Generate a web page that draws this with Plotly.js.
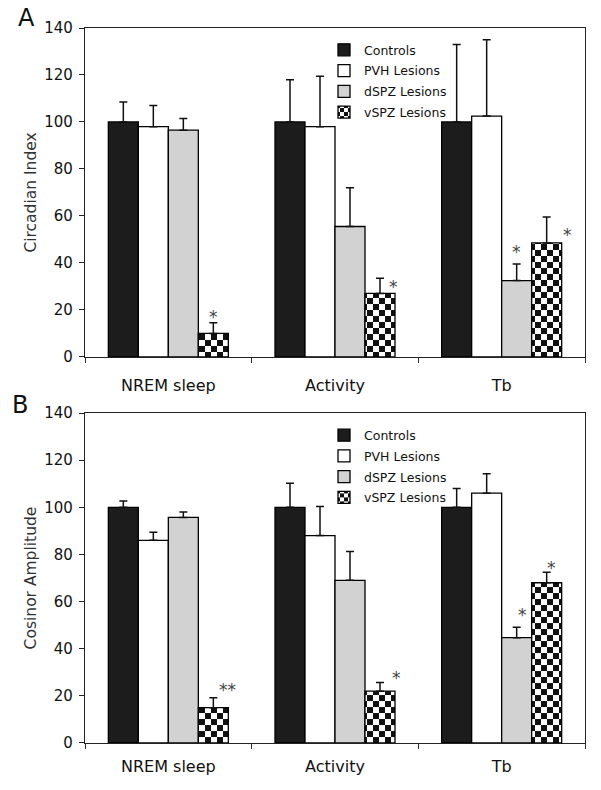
<!DOCTYPE html>
<html>
<head>
<meta charset="utf-8">
<script src="https://cdn.plot.ly/plotly-3.0.1.min.js"></script>
<style>html,body{margin:0;padding:0;background:#fff;}#chart{width:601px;height:790px;}</style>
</head>
<body>
<div id="chart"></div>
<script>
// ---- data ----
const categories = ["NREM sleep", "Activity", "Tb"];
const seriesNames = ["Controls", "PVH Lesions", "dSPZ Lesions", "vSPZ Lesions"];

// Panel A: Circadian Index
const controlsA = [100, 100, 100];
const controlsAErr = [8.5, 18, 33];
const pvhA = [98, 98, 102.5];
const pvhAErr = [9, 21.5, 32.5];
const dspzA = [96.5, 55.5, 32.5];
const dspzAErr = [5, 16.5, 7];
const vspzA = [10, 27, 48.5];
const vspzAErr = [4.5, 6.5, 11];

// Panel B: Cosinor Amplitude
const controlsB = [100, 100, 100];
const controlsBErr = [2.7, 10.2, 8];
const pvhB = [86, 88, 106];
const pvhBErr = [3.4, 12.3, 8.2];
const dspzB = [95.7, 69, 44.7];
const dspzBErr = [2.3, 12.2, 4.4];
const vspzB = [15, 22, 68];
const vspzBErr = [4.2, 3.7, 4.4];

// significance markers
const dspzAStars = ["", "", "*"];
const vspzAStars = ["*", "*", "*"];
const dspzBStars = ["", "", "*"];
const vspzBStars = ["**", "*", "*"];

const yTicks = [0, 20, 40, 60, 80, 100, 120, 140];

// ---- style ----
const FONT = "DejaVu Sans, Verdana, sans-serif";
const fills = ["#1c1c1c", "#ffffff", "#d2d2d2", "#ffffff"];
const BARGAP = 0.28;
const M = {l: 85, r: 16, t: 28, b: 47};
const plotW = 601 - M.l - M.r;
const barW = plotW / categories.length * (1 - BARGAP) / 4;

function makeTrace(i, vals, errs, xa, ya, legend, panel) {
  const t = {
    type: "bar", name: seriesNames[i], x: categories, y: vals,
    xaxis: xa, yaxis: ya, legend: legend, showlegend: true, legendgroup: panel + i,
    marker: {color: fills[i], line: {color: "#000", width: 1.3}},
    error_y: {type: "data", symmetric: false, array: errs,
              arrayminus: errs.map(() => 0), color: "#111", thickness: 1.5, width: 4},
    hoverinfo: "skip"
  };
  if (i === 3) {
    t.marker.pattern = {shape: "+", fgcolor: "#000", bgcolor: "#fff", size: 12, solidity: 0.5, fillmode: "replace"};
  }
  return t;
}

const dataA = [[controlsA, controlsAErr], [pvhA, pvhAErr], [dspzA, dspzAErr], [vspzA, vspzAErr]];
const dataB = [[controlsB, controlsBErr], [pvhB, pvhBErr], [dspzB, dspzBErr], [vspzB, vspzBErr]];
const traces = [];
dataA.forEach((d, i) => traces.push(makeTrace(i, d[0], d[1], "x", "y", "legend", "A")));
dataB.forEach((d, i) => traces.push(makeTrace(i, d[0], d[1], "x2", "y2", "legend2", "B")));

// star placement offsets (px) per category: [dx from bar centre, dy above error cap]
const starOffsetsA = {2: [[0, 0], [0, 0], [0, 17]], 3: [[0, 11], [13, -4], [21, -13]]};
const starOffsetsB = {2: [[0, 0], [0, 0], [6, 17]], 3: [[14, 13], [16, 9], [5, 9]]};
const annotations = [];
function addStars(si, stars, vals, errs, offs, xref, yref) {
  stars.forEach((s, k) => {
    if (!s) return;
    annotations.push({
      x: categories[k], y: vals[k] + errs[k], xref: xref, yref: yref,
      text: s, showarrow: false, font: {family: FONT, size: 17, color: "#444444"},
      xanchor: "center", yanchor: "middle",
      xshift: (si - 1.5) * barW + offs[k][0], yshift: offs[k][1] - 5
    });
  });
}
addStars(2, dspzAStars, dspzA, dspzAErr, starOffsetsA[2], "x", "y");
addStars(3, vspzAStars, vspzA, vspzAErr, starOffsetsA[3], "x", "y");
addStars(2, dspzBStars, dspzB, dspzBErr, starOffsetsB[2], "x2", "y2");
addStars(3, vspzBStars, vspzB, vspzBErr, starOffsetsB[3], "x2", "y2");

annotations.push({text: "A", xref: "paper", yref: "paper", x: -0.118, y: 1.014, xanchor: "center", yanchor: "middle",
  showarrow: false, font: {family: FONT, size: 24, color: "#111"}});
annotations.push({text: "B", xref: "paper", yref: "paper", x: -0.13, y: 0.473, xanchor: "center", yanchor: "middle",
  showarrow: false, font: {family: FONT, size: 24, color: "#111"}});

function xAxis(anchor, standoff) {
  return {
    anchor: anchor, type: "category", tickson: "boundaries", ticks: "outside", ticklen: 5,
    tickcolor: "#333", showline: true, linecolor: "#222", linewidth: 1.2, mirror: true,
    showgrid: false, zeroline: false, tickfont: {family: FONT, size: 16, color: "#111"},
    ticklabelstandoff: standoff, fixedrange: true
  };
}
function yAxis(anchor, domain, title) {
  return {
    anchor: anchor, domain: domain, range: [0, 140], tickvals: yTicks, ticktext: yTicks.map(String),
    ticks: "outside", ticklen: 5, tickcolor: "#222", showline: true, linecolor: "#222", linewidth: 1.2,
    mirror: true, showgrid: false, zeroline: false, ticklabelstandoff: 3,
    tickfont: {family: FONT, size: 15, color: "#111"},
    title: {text: title, font: {family: FONT, size: 15.5, color: "#333"}, standoff: 3}, fixedrange: true
  };
}

const legendStyle = {
  font: {family: FONT, size: 12.5, color: "#111"}, bgcolor: "rgba(0,0,0,0)", borderwidth: 0,
  xanchor: "left", yanchor: "top", itemclick: false, itemdoubleclick: false,
  traceorder: "grouped", tracegroupgap: 1.5, itemwidth: 30
};

const layout = {
  width: 601, height: 790, margin: M, paper_bgcolor: "#fff", plot_bgcolor: "#fff",
  barmode: "group", bargap: BARGAP, bargroupgap: 0, showlegend: true,
  xaxis: xAxis("y", 14), yaxis: yAxis("x", [0.54, 1], "Circadian Index"),
  xaxis2: xAxis("y2", 9), yaxis2: yAxis("x2", [0, 0.4615], "Cosinor Amplitude"),
  legend: Object.assign({x: 0.478, y: 0.99}, legendStyle),
  legend2: Object.assign({x: 0.478, y: 0.451}, legendStyle),
  annotations: annotations
};

Plotly.newPlot("chart", traces, layout, {displayModeBar: false, staticPlot: true}).then(function (gd) {
  // turn the library's pattern tiles into a checkerboard
  const NS = "http://www.w3.org/2000/svg";
  gd.querySelectorAll("pattern").forEach(function (p) {
    const s = parseFloat(p.getAttribute("width")) || 12;
    while (p.firstChild) p.removeChild(p.firstChild);
    const mk = function (x, y, w, h, c) {
      const r = document.createElementNS(NS, "rect");
      r.setAttribute("x", x); r.setAttribute("y", y); r.setAttribute("width", w); r.setAttribute("height", h);
      r.setAttribute("fill", c); p.appendChild(r);
    };
    mk(0, 0, s, s, "#fff");
    mk(0, 0, s / 2, s / 2, "#111");
    mk(s / 2, s / 2, s / 2, s / 2, "#111");
  });
});
</script>
</body>
</html>
